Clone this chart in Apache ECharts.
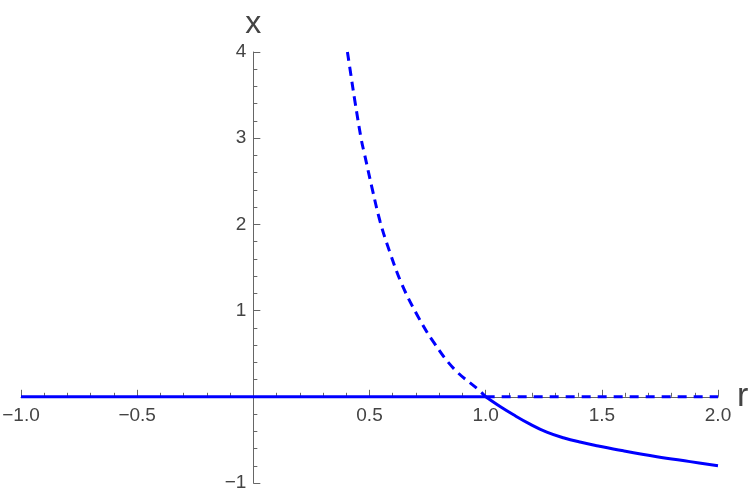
<!DOCTYPE html>
<html>
<head>
<meta charset="utf-8">
<script src="https://cdn.jsdelivr.net/npm/echarts@6/dist/echarts.min.js"></script>
<style>
    html, body {margin: 0; padding: 0; background: #fff;}
    #chart {width: 750px; height: 498px;}
</style>
</head>
<body>
<div id="chart"></div>
<script>
// branches, [r, x]
const zeroStable = [[-1, 0], [1, 0]];
const zeroUnstable = [[1, 0], [2, 0]];
const upperUnstable = [
    [0.405, 4.0], [0.419, 3.75], [0.436, 3.45], [0.465, 2.98], [0.479, 2.81],
    [0.512, 2.41], [0.546, 2.03], [0.586, 1.69], [0.637, 1.32], [0.701, 0.97],
    [0.773, 0.645], [0.864, 0.324], [0.971, 0.077], [1.0, 0]
];
const lowerStable = [
    [1.0, 0], [1.062, -0.113], [1.12, -0.209], [1.191, -0.317], [1.263, -0.41],
    [1.334, -0.475], [1.406, -0.525], [1.485, -0.57], [1.593, -0.627],
    [1.737, -0.695], [1.88, -0.752], [2.0, -0.8]
];

const axisColor = '#666';
const textColor = '#444';
const curveColor = '#0000ff';
const font = 'Liberation Sans, Arial, sans-serif';

// plot area and where the axes cross (r = 0, x = 0)
const gridBox = {left: 21, right: 32, top: 52, bottom: 15};
const plotW = 750 - gridBox.left - gridBox.right;
const plotH = 498 - gridBox.top - gridBox.bottom;
const yAxisShift = -plotW * (0 - -1) / (2 - -1);
const xAxisShift = -plotH * (0 - -1) / (4 - -1);

const minus = s => s.replace('-', '\u2212');

const chart = echarts.init(document.getElementById('chart'));
chart.setOption({
    animation: false,
    grid: Object.assign({containLabel: false, outerBoundsMode: 'none'}, gridBox),
    xAxis: {
        type: 'value',
        min: -1,
        max: 2,
        interval: 0.5,
        offset: xAxisShift,
        name: 'r',
        nameLocation: 'end',
        nameGap: 8,
        nameTextStyle: {color: textColor, fontSize: 34, fontFamily: font, verticalAlign: 'middle'},
        axisLine: {onZero: false, lineStyle: {color: axisColor, width: 1}},
        axisTick: {inside: true, length: 7, lineStyle: {color: axisColor}},
        minorTick: {show: true, splitNumber: 5, length: 4, lineStyle: {color: axisColor}},
        axisLabel: {
            margin: 9,
            color: textColor,
            fontSize: 19,
            fontFamily: font,
            formatter: v => v === 0 ? '' : minus(v.toFixed(1))
        },
        splitLine: {show: false},
        minorSplitLine: {show: false}
    },
    yAxis: {
        type: 'value',
        min: -1,
        max: 4,
        interval: 1,
        offset: yAxisShift,
        name: 'x',
        nameLocation: 'end',
        nameGap: 12,
        nameTextStyle: {color: textColor, fontSize: 32, fontFamily: font, align: 'center'},
        axisLine: {onZero: false, lineStyle: {color: axisColor, width: 1}},
        axisTick: {inside: true, length: 7, lineStyle: {color: axisColor}},
        minorTick: {show: true, splitNumber: 5, length: 4, lineStyle: {color: axisColor}},
        axisLabel: {
            margin: 7,
            color: textColor,
            fontSize: 19,
            fontFamily: font,
            formatter: v => v === 0 ? '' : minus(String(v))
        },
        splitLine: {show: false},
        minorSplitLine: {show: false}
    },
    series: [
        {type: 'line', data: zeroStable, showSymbol: false, lineStyle: {color: curveColor, width: 3}},
        {type: 'line', data: zeroUnstable, showSymbol: false, lineStyle: {color: curveColor, width: 3, type: [9, 7]}},
        {type: 'line', data: upperUnstable, showSymbol: false, smooth: 0.4, lineStyle: {color: curveColor, width: 3, type: [9, 6]}},
        {type: 'line', data: lowerStable, showSymbol: false, smooth: 0.4, lineStyle: {color: curveColor, width: 3}}
    ]
});
</script>
</body>
</html>
